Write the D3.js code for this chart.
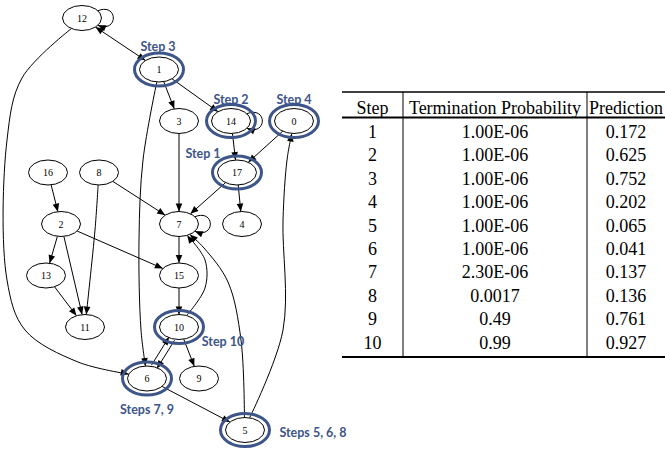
<!DOCTYPE html>
<html><head><meta charset="utf-8">
<script src="https://cdn.jsdelivr.net/npm/d3@7"></script>
<style>html,body{margin:0;padding:0;background:#fff;}svg{display:block;}</style>
</head><body>
<svg id="c" width="665" height="449"></svg>
<script>
// ---------- DATA ----------
const nodeIds   = ["12","1","3","14","0","16","8","17","2","7","4","13","15","11","10","6","9","5"];
const nodeRank  = [0,1,2,2,2,3,3,3,4,4,4,5,5,6,6,7,7,8];
const nodeCol   = [82,159,179,231,294,48,99,237,61,179,242,46,179,85,179,147,199,245];
const highlighted = ["1","14","0","17","10","6","5"];
const stepNodes = ["1","14","0","17","10","6","5"];
const stepTexts = ["Step 3","Step 2","Step 4","Step 1","Step 10","Steps 7, 9","Steps 5, 6, 8"];
const edgeSources = ["12","1","1","1","3","8","8","16","17","17","14","0","7","2","2","2","13","15","10","10","6","10","6","5","5","12"];
const edgeTargets = ["1","3","14","6","7","7","11","2","7","4","17","17","15","13","11","15","11","10","7","6","10","9","5","7","0","6"];
const selfLoops = ["12","14","7"];
const tableHeader = ["Step","Termination Probability","Prediction"];
const steps = ["1","2","3","4","5","6","7","8","9","10"];
const terminationProb = ["1.00E-06","1.00E-06","1.00E-06","1.00E-06","1.00E-06","1.00E-06","2.30E-06","0.0017","0.49","0.99"];
const prediction = ["0.172","0.625","0.752","0.202","0.065","0.041","0.137","0.136","0.761","0.927"];

// ---------- LAYOUT ----------
const svg = d3.select("#c");
const BLUE = "#3d5589";
const x = d3.scaleLinear().domain([0,330]).range([0,330]);
const y = d3.scaleLinear().domain([0,8]).range([18,430]);
const RX = 19.5, RY = 12.5;
const pos = {};
nodeIds.forEach((id,i)=>{pos[id]={x:x(nodeCol[i]),y:y(nodeRank[i])};});

// routing hints (graph-layout coordinates) for curved edges
const via = {
  "12-6": [[22,78],[7,140],[7,280],[25,330],[78,362]],
  "1-6": [[143,160],[139,240],[141,330]],
  "10-7": [[205,288],[205,260]],
  "5-7": [[241,340],[228,282],[204,248]],
  "5-0": [[283,330],[283,220],[287,160]],
  "8-11": [[95,230]]
};
const bothDir = {"12-1":true};
const offsetE = {"10-6":-3.2,"6-10":-3.2};
const labelOffset = {"Step 3":[-1,-23],"Step 2":[0,-22],"Step 4":[0,-22],"Step 1":[-34,-19],"Step 10":[44,14],"Steps 7, 9":[0,31],"Steps 5, 6, 8":[68,2]};

function boundary(c, p){
  const dx=p[0]-c.x, dy=p[1]-c.y;
  const t=1/Math.sqrt((dx/RX)**2+(dy/RY)**2);
  return [c.x+dx*t, c.y+dy*t];
}
function arrow(tip, from){
  let dx=tip[0]-from[0], dy=tip[1]-from[1];
  const L=Math.hypot(dx,dy)||1; dx/=L; dy/=L;
  const b=[tip[0]-dx*8, tip[1]-dy*8];
  const nx=-dy*3.3, ny=dx*3.3;
  return `M${tip[0]},${tip[1]}L${b[0]+nx},${b[1]+ny}L${b[0]-nx},${b[1]-ny}Z`;
}
const gE = svg.append("g");
const line = d3.line().curve(d3.curveCatmullRom.alpha(0.5));
edgeSources.forEach((s,i)=>{
  const t=edgeTargets[i], key=s+"-"+t;
  const S=pos[s], T=pos[t];
  const v=(via[key]||[]).map(p=>[x(p[0]),y.invert ? (p[1]) : p[1]]);
  let a=boundary(S, v.length?v[0]:[T.x,T.y]);
  let b=boundary(T, v.length?v[v.length-1]:[S.x,S.y]);
  if(offsetE[key]){
    const dx=b[0]-a[0], dy=b[1]-a[1], L=Math.hypot(dx,dy);
    const o=offsetE[key], nx=-dy/L*o, ny=dx/L*o;
    a=[a[0]+nx,a[1]+ny]; b=[b[0]+nx,b[1]+ny];
  }
  const pts=[a,...v,b];
  gE.append("path").attr("d",line(pts)).attr("fill","none").attr("stroke","#000").attr("stroke-width",1);
  gE.append("path").attr("d",arrow(b,pts[pts.length-2])).attr("fill","#000");
  if(bothDir[key]) gE.append("path").attr("d",arrow(a,pts[1])).attr("fill","#000");
});
selfLoops.forEach(id=>{
  const c=pos[id], an=0.62;
  const s=[c.x+RX*Math.cos(an), c.y-RY*Math.sin(an)];
  const e=[c.x+RX*Math.cos(an), c.y+RY*Math.sin(an)];
  const c1=[c.x+RX+17, c.y-RY-3], c2=[c.x+RX+17, c.y+RY+3];
  gE.append("path").attr("d",`M${s}C${c1} ${c2} ${e}`).attr("fill","none").attr("stroke","#000");
  gE.append("path").attr("d",arrow(e,c2)).attr("fill","#000");
});

const gN = svg.append("g");
nodeIds.forEach(id=>{
  const c=pos[id];
  gN.append("ellipse").attr("cx",c.x).attr("cy",c.y).attr("rx",RX).attr("ry",RY)
    .attr("fill","#fff").attr("stroke","#000").attr("stroke-width",1);
  gN.append("text").attr("x",c.x).attr("y",c.y+3.5).attr("text-anchor","middle")
    .attr("font-family","Liberation Serif, serif").attr("font-size",10).text(id);
});
highlighted.forEach(id=>{
  const c=pos[id];
  gN.append("ellipse").attr("cx",c.x).attr("cy",c.y).attr("rx",RX+5).attr("ry",RY+4)
    .attr("fill","none").attr("stroke",BLUE).attr("stroke-width",3);
});
stepNodes.forEach((id,i)=>{
  const c=pos[id], t=stepTexts[i], o=labelOffset[t];
  gN.append("text").attr("x",c.x+o[0]).attr("y",c.y+o[1]+4.5).attr("text-anchor","middle")
    .attr("font-family","Lato, sans-serif").attr("font-weight","bold").attr("font-size",12.5)
    .attr("fill",BLUE).text(t);
});

// ---------- TABLE ----------
const colEdges=[342,403,587,665];
const colCenter=[372.5,495,626];
const ry=d3.scaleLinear().domain([0,9]).range([132,342.6]);
const gT=svg.append("g").attr("font-family","Liberation Serif, serif").attr("font-size",18);
gT.append("line").attr("x1",colEdges[0]).attr("x2",colEdges[3]).attr("y1",92).attr("y2",92).attr("stroke","#000").attr("stroke-width",1.5);
gT.append("line").attr("x1",colEdges[0]).attr("x2",colEdges[3]).attr("y1",117.5).attr("y2",117.5).attr("stroke","#000").attr("stroke-width",2.2);
gT.append("line").attr("x1",colEdges[0]).attr("x2",colEdges[3]).attr("y1",357).attr("y2",357).attr("stroke","#000").attr("stroke-width",2.2);
[1,2].forEach(k=>gT.append("line").attr("x1",colEdges[k]).attr("x2",colEdges[k]).attr("y1",92).attr("y2",357).attr("stroke","#000").attr("stroke-width",1));
tableHeader.forEach((h,j)=>gT.append("text").attr("x",colCenter[j]).attr("y",108+6).attr("text-anchor","middle").text(h));
steps.forEach((s,i)=>{
  [s,terminationProb[i],prediction[i]].forEach((v,j)=>{
    gT.append("text").attr("x",colCenter[j]).attr("y",ry(i)+6).attr("text-anchor","middle").text(v);
  });
});
</script>
</body></html>
